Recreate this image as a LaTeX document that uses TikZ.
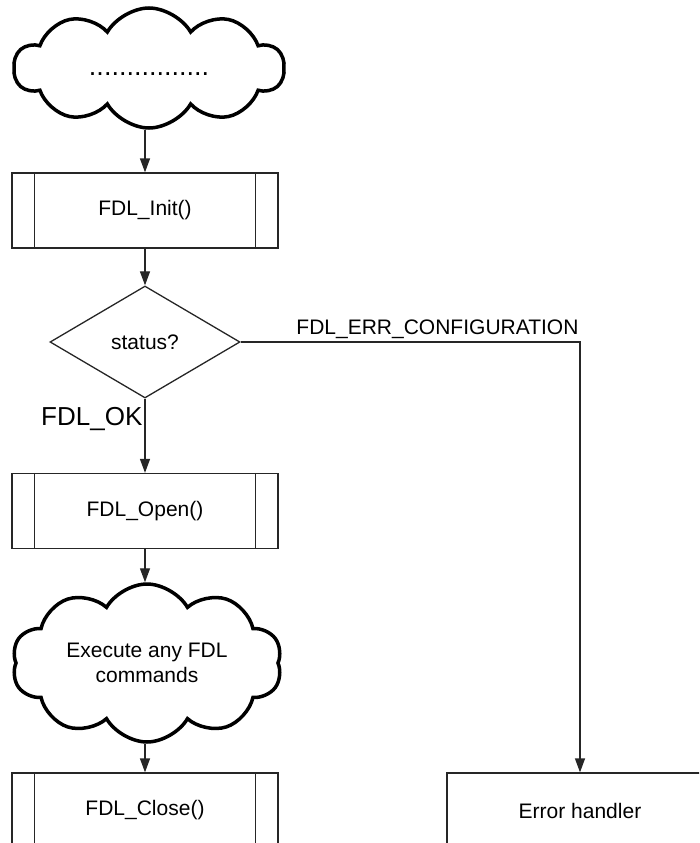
\documentclass[tikz,border=0pt]{standalone}
\usepackage{fontspec}
\setmainfont{Liberation Sans}
\usetikzlibrary{shapes.geometric,shapes.symbols,arrows.meta}

\begin{document}
\begin{tikzpicture}[x=1pt, y=-1pt,
  font=\fontsize{21}{25}\selectfont,
  line/.style={draw=black!85, line width=1.3pt},
  flow/.style={line, -{Triangle[length=14pt, width=10pt]}},
  procbox/.style={line, rectangle, minimum width=266pt, minimum height=75pt, inner sep=0pt},
  thought/.style={cloud, draw, line width=3.5pt, cloud puffs=10, cloud puff arc=120, cloud ignores aspect, minimum width=270pt, inner sep=0pt, align=center},
  choice/.style={line, diamond, minimum width=190pt, minimum height=112pt, inner sep=0pt}]
  \useasboundingbox (0,0) rectangle (699,843);
  \clip (0,0) rectangle (699,843);

  % steps
  \node[thought, minimum height=120pt, text height=14pt, text depth=0pt, font=\fontsize{27}{30}\selectfont] (start) at (149,68) {................};
  \node[procbox] (init) at (145,210.5) {FDL\_Init()};
  \node[choice] (status) at (145,342) {status?};
  \node[procbox] (open) at (145,511) {FDL\_Open()};
  \node[thought, minimum height=158pt] (exec) at (147,663) {Execute any FDL\\commands};
  \node[procbox] (close) at (145,810.5) {FDL\_Close()};
  \node[procbox] (errh) at (580,810.5) {Error handler};

  % side bars of the predefined steps
  \foreach \n in {init,open,close}{
    \draw[line] ([xshift=23pt]\n.north west) -- ([xshift=23pt]\n.south west);
    \draw[line] ([xshift=-23pt]\n.north east) -- ([xshift=-23pt]\n.south east);
  }

  % flow
  \draw[flow] (start.south -| init.north) -- (init.north);
  \draw[flow] (init) -- (status);
  \draw[flow] (status) -- node[pos=0.28, left, inner sep=2pt, font=\fontsize{26}{30}\selectfont] {FDL\_OK} (open);
  \draw[flow] (open.south) -- (open.south |- exec.north);
  \draw[flow] (exec.south -| close.north) -- (close.north);
  \draw[flow] (status.east) -| node[pos=0.29, above, inner sep=3pt] {FDL\_ERR\_CONFIGURATION} (errh.north);
\end{tikzpicture}
\end{document}
